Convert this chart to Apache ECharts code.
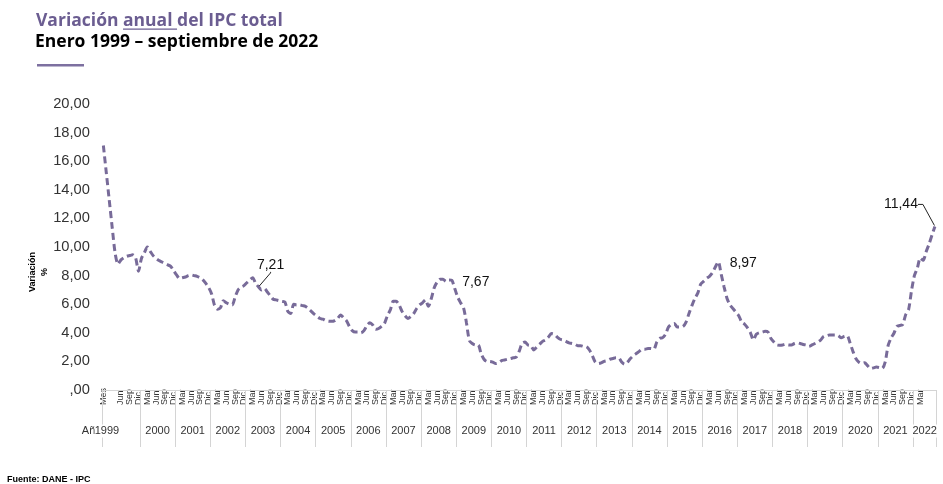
<!DOCTYPE html>
<html>
<head>
<meta charset="utf-8">
<script src="https://cdn.jsdelivr.net/npm/echarts@6.0.0/dist/echarts.min.js"></script>
<style>
  html, body { margin: 0; padding: 0; background: #fff; }
  #chart { width: 943px; height: 484px; }
</style>
</head>
<body>
<div id="chart"></div>
<script>
// ------------------------------------------------------------
// Variación anual del IPC total, enero 1999 - septiembre 2022
// ------------------------------------------------------------

var MONTHS = ['Ene', 'Feb', 'Mar', 'Abr', 'May', 'Jun', 'Jul', 'Ago', 'Sep', 'Oct', 'Nov', 'Dic'];
var YEARS = [1999, 2000, 2001, 2002, 2003, 2004, 2005, 2006, 2007, 2008, 2009, 2010,
  2011, 2012, 2013, 2014, 2015, 2016, 2017, 2018, 2019, 2020, 2021, 2022];
var Y_TICKS = [0, 2, 4, 6, 8, 10, 12, 14, 16, 18, 20];

// variación anual (%), de enero a diciembre
var v1999 = [17.1, 15.2, 13.3, 11.4, 9.6, 8.8, 9.1, 9.25, 9.35, 9.4, 9.45, 9.25];
var v2000 = [8.3, 9.2, 9.6, 10.0, 9.7, 9.4, 9.2, 9.05, 8.95, 8.85, 8.75, 8.65];
var v2001 = [8.35, 8.05, 7.8, 7.85, 7.9, 8.0, 8.05, 8.0, 7.95, 7.85, 7.7, 7.45];
var v2002 = [7.15, 6.7, 5.9, 5.65, 5.75, 6.25, 6.1, 6.0, 5.95, 6.5, 7.0, 7.2];
var v2003 = [7.3, 7.5, 7.7, 7.85, 7.45, 7.21, 7.0, 7.1, 6.85, 6.6, 6.35, 6.3];
var v2004 = [6.25, 6.2, 6.15, 5.5, 5.35, 6.0, 5.95, 5.95, 5.9, 5.85, 5.7, 5.5];
var v2005 = [5.3, 5.15, 5.0, 4.95, 4.85, 4.8, 4.8, 4.85, 5.0, 5.25, 5.05, 4.85];
var v2006 = [4.45, 4.15, 4.05, 4.05, 4.0, 4.15, 4.5, 4.7, 4.55, 4.25, 4.3, 4.45];
var v2007 = [4.65, 5.2, 5.6, 6.2, 6.2, 5.95, 5.5, 5.2, 5.0, 5.15, 5.35, 5.7];
var v2008 = [5.95, 6.1, 6.3, 5.85, 6.4, 7.15, 7.55, 7.75, 7.75, 7.6, 7.7, 7.67];
var v2009 = [7.1, 6.5, 6.1, 5.75, 4.7, 3.45, 3.25, 3.15, 3.15, 2.55, 2.15, 2.0];
var v2010 = [2.0, 1.95, 1.85, 1.9, 2.05, 2.1, 2.15, 2.2, 2.25, 2.3, 2.7, 3.25];
var v2011 = [3.35, 3.15, 3.1, 2.8, 3.0, 3.2, 3.4, 3.5, 3.7, 3.95, 3.9, 3.7];
var v2012 = [3.55, 3.5, 3.4, 3.3, 3.25, 3.2, 3.1, 3.1, 3.05, 3.03, 2.8, 2.4];
var v2013 = [1.95, 1.85, 1.9, 2.0, 2.05, 2.15, 2.2, 2.25, 2.25, 1.95, 1.8, 1.95];
var v2014 = [2.2, 2.4, 2.55, 2.7, 2.85, 2.85, 2.9, 2.9, 2.85, 3.35, 3.6, 3.66];
var v2015 = [3.9, 4.4, 4.6, 4.65, 4.4, 4.4, 4.45, 4.75, 5.35, 5.9, 6.4, 6.77];
var v2016 = [7.4, 7.6, 7.8, 7.95, 8.2, 8.6, 8.97, 8.1, 7.2, 6.4, 5.95, 5.7];
var v2017 = [5.45, 5.2, 4.75, 4.6, 4.35, 4.0, 3.5, 3.9, 4.0, 4.05, 4.1, 4.05];
var v2018 = [3.6, 3.35, 3.15, 3.13, 3.15, 3.2, 3.15, 3.15, 3.25, 3.3, 3.25, 3.18];
var v2019 = [3.15, 3.05, 3.15, 3.25, 3.35, 3.5, 3.75, 3.8, 3.85, 3.85, 3.85, 3.8];
var v2020 = [3.65, 3.75, 3.8, 3.3, 2.7, 2.2, 1.95, 1.85, 1.9, 1.7, 1.5, 1.55];
var v2021 = [1.6, 1.56, 1.51, 1.95, 3.1, 3.63, 3.97, 4.44, 4.51, 4.58, 5.26, 5.62];
var v2022 = [6.94, 8.01, 8.53, 9.23, 9.07, 9.67, 10.21, 10.84, 11.44]; // hasta septiembre

// meses con el valor rotulado: [año, mes]
var LABELED = [[2003, 6], [2008, 12], [2016, 7], [2022, 9]];

// ------------------------------------------------------------
// armado de series y ejes
// ------------------------------------------------------------

var yearly = [v1999, v2000, v2001, v2002, v2003, v2004, v2005, v2006, v2007, v2008,
  v2009, v2010, v2011, v2012, v2013, v2014, v2015, v2016, v2017, v2018,
  v2019, v2020, v2021, v2022];

var values = [];
yearly.forEach(function(arr) { values = values.concat(arr); });

// en la hoja original el rótulo "Mes" ocupa la primera casilla del eje,
// por eso los meses quedan corridos una posición respecto a los valores
var categories = ['Mes'];
YEARS.forEach(function(y) {
  MONTHS.forEach(function(m) {
    if (categories.length < values.length) categories.push(m);
  });
});

var lastPos = values.length - 0.5;
var yearSep = [-0.5];
var yearPos = [];
var yearText = {};
YEARS.forEach(function(y, k) {
  var start = k * 12 + 0.5;
  var end = Math.min(start + 12, lastPos);
  var pos = k === 0 ? 1.2 : (start + end) / 2;   // 1999 queda pegado al rótulo "Año"
  yearPos.push(pos);
  yearText[pos] = String(y);
  yearSep.push(end);
});

// desplazamiento (px) de las etiquetas destacadas y su guía
var labelStyles = {
  '2003-6': { dx: 13, dy: -22, guide: true, len: 1 },
  '2008-12': { dx: 25, dy: 2, guide: false, len: 0 },
  '2016-7': { dx: 26, dy: 1, guide: false, len: 0 },
  '2022-9': { dx: -33, dy: -22, guide: true, len: 5 },
};

function fmt(v) {
  return v.toFixed(2).replace('.', ',');
}

var labelShift = {};
var seriesData = values.map(function(v) { return v; });
LABELED.forEach(function(p) {
  var idx = (p[0] - YEARS[0]) * 12 + (p[1] - 1);
  var cfg = labelStyles[p[0] + '-' + p[1]];
  labelShift[idx] = cfg;
  seriesData[idx] = {
    value: values[idx],
    symbol: 'circle',
    symbolSize: 2,
    itemStyle: { color: 'rgba(0,0,0,0)', borderWidth: 0 },
    label: {
      show: true,
      position: 'inside',
      formatter: fmt(values[idx]),
      fontSize: 14,
      color: '#111',
      padding: [0, 2, 3, 0],
    },
    labelLine: {
      show: cfg.guide,
      length2: cfg.len,
      lineStyle: { color: '#222', width: 1 },
    },
  };
});

// ------------------------------------------------------------
// subrayado de "anual" en el título
// ------------------------------------------------------------

var TITLE_FONT = 'bold 17.5px "Open Sans"';
var ctx = document.createElement('canvas').getContext('2d');
ctx.font = TITLE_FONT;
var underlineX = 36 + ctx.measureText('Variación ').width;
var underlineW = ctx.measureText('anual ').width;

var PURPLE = '#6b5d91';
var LINE_COLOR = '#786b99';
var FONT = '"Liberation Sans", Arial, sans-serif';

var chart = echarts.init(document.getElementById('chart'));

chart.setOption({
  animation: false,
  textStyle: { fontFamily: FONT },
  title: [
    {
      text: 'Variación anual del IPC total',
      left: 36, top: 11, padding: 0,
      textStyle: { fontFamily: '"Open Sans"', fontWeight: 'bold', fontSize: 17.5, color: PURPLE, lineHeight: 21 },
    },
    {
      text: 'Enero 1999 – septiembre de 2022',
      left: 35, top: 32, padding: 0,
      textStyle: { fontFamily: '"Open Sans"', fontWeight: 'bold', fontSize: 17.5, color: '#000', lineHeight: 21 },
    },
    {
      text: 'Fuente: DANE - IPC',
      left: 7, top: 474, padding: 0,
      textStyle: { fontFamily: FONT, fontWeight: 'bold', fontSize: 9, color: '#000', lineHeight: 11 },
    },
  ],
  graphic: [
    { type: 'rect', shape: { x: underlineX, y: 28.4, width: underlineW, height: 1.3 }, style: { fill: PURPLE }, silent: true },
    { type: 'rect', shape: { x: 37, y: 64, width: 47, height: 2.6 }, style: { fill: '#7d70a0' }, silent: true },
    {
      type: 'text', x: 39, y: 272, rotation: Math.PI / 2, silent: true,
      style: {
        text: 'Variación\n%', fontFamily: FONT, fontWeight: 'bold', fontSize: 9,
        lineHeight: 12, fill: '#000', align: 'center', verticalAlign: 'middle',
      },
    },
  ],
  grid: { left: 101.9, right: 6.6, top: 104, bottom: 94 },
  xAxis: [
    {
      // meses
      type: 'category',
      position: 'bottom',
      data: categories,
      boundaryGap: true,
      axisLine: { show: false },
      axisTick: { show: false },
      splitLine: { show: false },
      axisLabel: {
        interval: function(i) { return i % 3 === 0; },
        showMinLabel: true,
        hideOverlap: false,
        rotate: 90,
        align: 'left',
        verticalAlign: 'middle',
        lineHeight: 7,
        margin: 15,
        fontSize: 9,
        color: '#333',
      },
    },
    {
      // años, con las separaciones entre grupos
      type: 'value',
      position: 'bottom',
      min: -0.5,
      max: lastPos,
      z: 3,
      axisLine: { show: true, lineStyle: { color: '#d4d4d4', width: 1 } },
      axisTick: {
        show: true,
        customValues: yearSep,
        length: 57,
        lineStyle: { color: '#d4d4d4', width: 1 },
      },
      splitLine: { show: false },
      axisLabel: {
        customValues: yearPos,
        showMinLabel: true,
        showMaxLabel: true,
        hideOverlap: false,
        margin: 34.5,
        fontSize: 11,
        lineHeight: 13,
        color: '#333',
        backgroundColor: '#fff',
        formatter: function(v) { return yearText[v] || ''; },
      },
    },
    {
      // rótulo de la fila de años
      type: 'value',
      position: 'bottom',
      min: -0.5,
      max: lastPos,
      z: 2,
      axisLine: { show: false },
      axisTick: { show: false },
      splitLine: { show: false },
      axisLabel: {
        customValues: [0],
        showMinLabel: true,
        margin: 34.5,
        fontSize: 11,
        lineHeight: 13,
        align: 'right',
        padding: [0, 2, 0, 0],
        color: '#333',
        formatter: function() { return 'Año'; },
      },
    },
  ],
  yAxis: {
    type: 'value',
    min: Y_TICKS[0],
    max: Y_TICKS[Y_TICKS.length - 1],
    interval: 2,
    axisLine: { show: false },
    axisTick: { show: false },
    splitLine: { show: false },
    axisLabel: {
      margin: 12,
      fontSize: 14.7,
      color: '#333',
      formatter: function(v) { return v === 0 ? ',00' : fmt(v); },
    },
  },
  series: [{
    type: 'line',
    xAxisIndex: 0,
    data: seriesData,
    smooth: 0.25,
    symbol: 'none',
    showSymbol: true,
    showAllSymbol: true,
    lineStyle: { color: LINE_COLOR, width: 3, type: [7, 4] },
    itemStyle: { color: LINE_COLOR },
    emphasis: { disabled: true },
    labelLine: { show: false },
    labelLayout: function(params) {
      var s = labelShift[params.dataIndex];
      return s ? { dx: s.dx, dy: s.dy } : {};
    },
  }],
});
</script>
</body>
</html>
